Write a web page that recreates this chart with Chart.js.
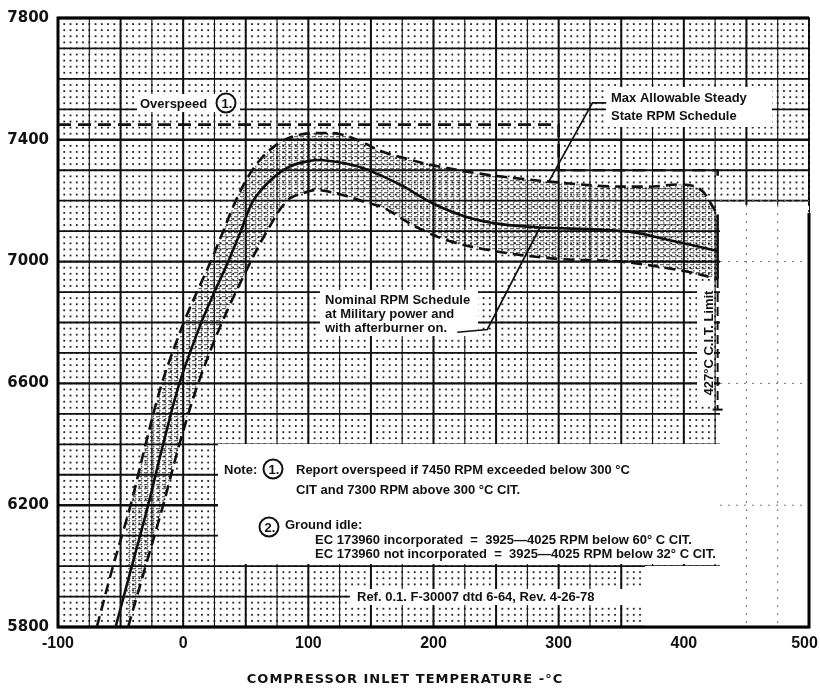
<!DOCTYPE html>
<html>
<head>
<meta charset="utf-8">
<script src="https://cdn.jsdelivr.net/npm/chart.js@4.4.1/dist/chart.umd.min.js"></script>
<style>
    html, body { margin: 0; padding: 0; background: #fff; }
    #wrap { width: 820px; height: 690px; }
</style>
</head>
<body>
<div id="wrap"><canvas id="rpmChart" width="820" height="690"></canvas></div>
<script>
// 축 눈금
const xTicks = [-100, 0, 100, 200, 300, 400, 500];
const yTicks = [5800, 6200, 6600, 7000, 7400, 7800];

// 최대 허용 정상상태 RPM (위쪽 점선)
const maxTemp = [-69, -56, -42, -30, -17, 0, 11, 22, 32, 42, 52, 62, 72, 82, 95, 110, 125, 140, 160, 180, 200, 235, 270, 300, 335, 370, 410, 427];
const maxRpm  = [5800, 6000, 6200, 6400, 6600, 6795, 6900, 7000, 7100, 7200, 7280, 7337, 7376, 7402, 7418, 7422, 7419, 7398, 7360, 7336, 7316, 7290, 7272, 7260, 7248, 7246, 7245, 7155];

// 공칭 RPM 스케줄 (실선)
const nomTemp = [-54, -41, -28, -16, -3, 14, 25, 36, 46, 56, 70, 85, 100, 112, 130, 147, 174, 200, 227, 254, 286, 334, 360, 387, 427];
const nomRpm  = [5800, 6000, 6200, 6400, 6600, 6795, 6900, 7000, 7100, 7200, 7268, 7312, 7330, 7333, 7322, 7302, 7251, 7190, 7146, 7123, 7112, 7105, 7096, 7072, 7035];

// 최소 RPM (아래쪽 점선)
const minTemp = [-44, -30, -16, -3, 12, 31, 54, 67, 83, 96, 107, 126, 145, 160, 187, 214, 254, 302, 347, 400, 427];
const minRpm  = [5800, 6000, 6200, 6400, 6600, 6800, 7000, 7100, 7200, 7225, 7235, 7220, 7196, 7177, 7112, 7066, 7031, 7008, 7001, 6969, 6943];

// 과속 한계선 (7450 / 7300)
const overTemp = [-100, 300, 300, 427, 427];
const overRpm  = [7450, 7450, 7300, 7300, 7282];

// 427°C 끝단, C.I.T. 한계선
const edgeTemp = [427, 427];
const edgeRpm  = [7155, 6943];
const citTemp  = [427, 427];
const citRpm   = [6943, 6514];
const citTickTemp = [423, 431];
const citTickRpm  = [6514, 6514];

// 설명 지시선
const maxLeadTemp = [338, 327, 292];
const maxLeadRpm  = [7521, 7521, 7262];
const nomLeadTemp = [219, 243, 285];
const nomLeadRpm  = [6768, 6777, 7112];

const toPoints = (xs, ys) => xs.map((x, i) => ({ x: x, y: ys[i] }));

// 띠 영역 해칭 패턴
function makeBandPattern() {
    const c = document.createElement('canvas');
    c.width = 6;
    c.height = 4;
    const g = c.getContext('2d');
    g.fillStyle = 'rgba(0,0,0,0.6)';
    g.fillRect(0, 0, 4, 1.3);
    g.fillRect(3, 2, 1.5, 1.5);
    return g.createPattern(c, 'repeat');
}

// 그리드 + 흰 배경 영역
const gridPlugin = {
    id: 'paperGrid',
    beforeDatasetsDraw(chart) {
        const { ctx, chartArea: a, scales: { x, y } } = chart;
        ctx.save();

        // 점 격자
        ctx.fillStyle = '#222';
        for (let t = -100; t <= 500; t += 5) {
            const px = x.getPixelForValue(t);
            for (let r = 5800; r <= 7800; r += 20) {
                const py = y.getPixelForValue(r);
                ctx.fillRect(px - 0.9, py - 0.9, 1.8, 1.8);
            }
        }

        // 세로선
        for (let t = -100; t <= 500; t += 25) {
            const px = x.getPixelForValue(t);
            ctx.strokeStyle = '#111';
            ctx.lineWidth = (t % 50 === 0) ? 2 : 1.1;
            ctx.beginPath();
            ctx.moveTo(px, a.top);
            ctx.lineTo(px, a.bottom);
            ctx.stroke();
        }
        // 가로선
        for (let r = 5800; r <= 7800; r += 100) {
            const py = y.getPixelForValue(r);
            ctx.strokeStyle = '#111';
            ctx.lineWidth = (r % 400 === 200) ? 2.4 : 1.8;
            ctx.beginPath();
            ctx.moveTo(a.left, py);
            ctx.lineTo(a.right, py);
            ctx.stroke();
        }

        // 흰 영역 (라벨 뒤, 노트 박스, 오른쪽)
        ctx.fillStyle = '#fff';
        ctx.fillRect(218, 444, 566, 120);        // note box
        ctx.fillRect(350, 589, 296, 16);         // ref
        ctx.fillRect(137, 94, 103, 18);          // overspeed
        ctx.fillRect(606, 87, 166, 40);          // max allowable
        ctx.fillRect(320, 290, 158, 46);         // nominal
        ctx.fillRect(697, 282, 17, 122);         // cit label
        ctx.fillRect(720, 205, a.right - 720, a.bottom - 205);
        ctx.fillRect(645, 566, a.right - 645, a.bottom - 566);

        // 오른쪽 흰 영역의 희미한 점선
        ctx.strokeStyle = '#777';
        ctx.lineWidth = 1;
        ctx.setLineDash([2, 6]);
        [7200, 7000, 6600, 6200].forEach(r => {
            const py = y.getPixelForValue(r);
            ctx.beginPath();
            ctx.moveTo(720, py);
            ctx.lineTo(a.right, py);
            ctx.stroke();
        });
        [450, 475].forEach(t => {
            const px = x.getPixelForValue(t);
            ctx.beginPath();
            ctx.moveTo(px, 205);
            ctx.lineTo(px, a.bottom);
            ctx.stroke();
        });
        ctx.setLineDash([]);

        // 테두리
        ctx.strokeStyle = '#000';
        ctx.lineWidth = 3;
        ctx.beginPath();
        ctx.moveTo(a.right, y.getPixelForValue(7160));
        ctx.lineTo(a.right, a.bottom);
        ctx.lineTo(a.left, a.bottom);
        ctx.lineTo(a.left, a.top);
        ctx.lineTo(a.right, a.top);
        ctx.stroke();
        ctx.lineWidth = 1.5;
        ctx.setLineDash([2, 4]);
        ctx.beginPath();
        ctx.moveTo(a.right, a.top);
        ctx.lineTo(a.right, y.getPixelForValue(7160));
        ctx.stroke();
        ctx.restore();
    },
    afterDatasetsDraw(chart) {
        const { ctx } = chart;
        ctx.save();
        ctx.fillStyle = '#111';
        ctx.strokeStyle = '#111';
        ctx.textBaseline = 'middle';
        ctx.textAlign = 'left';
        ctx.font = 'bold 13px "Liberation Sans", Arial, sans-serif';

        const circleNum = (cx, cy, txt) => {
            ctx.lineWidth = 2;
            ctx.beginPath();
            ctx.arc(cx, cy, 9.5, 0, Math.PI * 2);
            ctx.stroke();
            ctx.textAlign = 'center';
            ctx.fillText(txt, cx + 1, cy + 1);
            ctx.textAlign = 'left';
        };

        // 과속 라벨
        ctx.fillText('Overspeed', 140, 104);
        circleNum(226, 103, '1.');

        // 최대 허용 라벨
        ctx.fillText('Max Allowable Steady', 611, 98);
        ctx.fillText('State RPM Schedule', 611, 116);

        // 공칭 라벨
        ctx.fillText('Nominal RPM Schedule', 325, 300);
        ctx.fillText('at Military power and', 325, 314);
        ctx.fillText('with afterburner on.', 325, 328);

        // 노트
        ctx.fillText('Note:', 224, 470);
        circleNum(273, 469, '1.');
        ctx.fillText('Report overspeed if 7450 RPM exceeded below 300 \u00B0C', 296, 470);
        ctx.fillText('CIT and 7300 RPM above 300 \u00B0C CIT.', 296, 490);
        circleNum(269, 527, '2.');
        ctx.fillText('Ground idle:', 285, 525);
        ctx.fillText('EC 173960 incorporated  =  3925\u20144025 RPM below 60\u00B0 C CIT.', 315, 540);
        ctx.fillText('EC 173960 not incorporated  =  3925\u20144025 RPM below 32\u00B0 C CIT.', 315, 554);

        // 참고 문헌
        ctx.fillText('Ref. 0.1. F-30007 dtd 6-64, Rev. 4-26-78', 357, 597);

        // C.I.T. 한계 (세로 글자)
        ctx.save();
        ctx.translate(709, 343);
        ctx.rotate(-Math.PI / 2);
        ctx.textAlign = 'center';
        ctx.fillText('427\u00B0C C.I.T. Limit', 0, 0);
        ctx.restore();

        ctx.restore();
    },
    afterDraw(chart) {
        const { ctx } = chart;
        ctx.save();
        ctx.fillStyle = '#111';
        ctx.textAlign = 'center';
        ctx.textBaseline = 'middle';
        ctx.font = 'bold 13px "DejaVu Sans", sans-serif';
        if ('letterSpacing' in ctx) ctx.letterSpacing = '1px';
        ctx.fillText('COMPRESSOR INLET TEMPERATURE -\u00B0C', 405, 680);
        ctx.restore();
    }
};

const baseLine = {
    showLine: true,
    pointRadius: 0,
    borderColor: '#111',
    borderWidth: 2.6,
    fill: false,
    tension: 0
};

const ctx = document.getElementById('rpmChart').getContext('2d');
const rpmChart = new Chart(ctx, {
    type: 'scatter',
    data: {
        datasets: [
            { ...baseLine, label: 'Max Allowable', data: toPoints(maxTemp, maxRpm), borderDash: [11, 6], tension: 0.35, fill: 1, backgroundColor: makeBandPattern() },
            { ...baseLine, label: 'Min', data: toPoints(minTemp, minRpm), borderDash: [11, 6], tension: 0.35 },
            { ...baseLine, label: 'Nominal', data: toPoints(nomTemp, nomRpm), tension: 0.35 },
            { ...baseLine, label: 'Overspeed', data: toPoints(overTemp, overRpm), borderDash: [13, 7] },
            { ...baseLine, label: 'Edge', data: toPoints(edgeTemp, edgeRpm) },
            { ...baseLine, label: 'CIT', data: toPoints(citTemp, citRpm), borderDash: [9, 5], borderWidth: 2 },
            { ...baseLine, label: 'CIT tick', data: toPoints(citTickTemp, citTickRpm), borderWidth: 2 },
            { ...baseLine, label: 'Lead 1', data: toPoints(maxLeadTemp, maxLeadRpm), borderWidth: 1.7 },
            { ...baseLine, label: 'Lead 2', data: toPoints(nomLeadTemp, nomLeadRpm), borderWidth: 1.7 }
        ]
    },
    options: {
        responsive: false,
        animation: false,
        layout: { padding: { top: 11, right: 11, left: 0, bottom: 0 } },
        plugins: {
            legend: { display: false },
            tooltip: { enabled: false }
        },
        scales: {
            x: {
                type: 'linear',
                min: -100,
                max: 500,
                afterBuildTicks: (scale) => { scale.ticks = xTicks.map(v => ({ value: v })); },
                afterFit: (scale) => { scale.height = 63; scale.paddingLeft = 0; scale.paddingRight = 0; },
                grid: { display: false, drawTicks: false },
                border: { display: false },
                ticks: {
                    padding: 7,
                    color: '#111',
                    font: { family: '"Liberation Sans", Arial, sans-serif', size: 16, weight: 'bold' },
                    maxRotation: 0,
                    // 마지막 라벨은 캔버스 안으로 살짝 당김
                    callback: (value) => value === 500 ? '500  ' : String(value)
                }
            },
            y: {
                type: 'linear',
                min: 5800,
                max: 7800,
                afterBuildTicks: (scale) => { scale.ticks = yTicks.map(v => ({ value: v })); },
                afterFit: (scale) => { scale.width = 58; },
                grid: { display: false, drawTicks: false },
                border: { display: false },
                ticks: {
                    padding: 9,
                    color: '#111',
                    font: { family: '"DejaVu Sans", sans-serif', size: 15, weight: 'bold' },
                    callback: (value) => String(value)
                }
            }
        }
    },
    plugins: [gridPlugin]
});
</script>
</body>
</html>
